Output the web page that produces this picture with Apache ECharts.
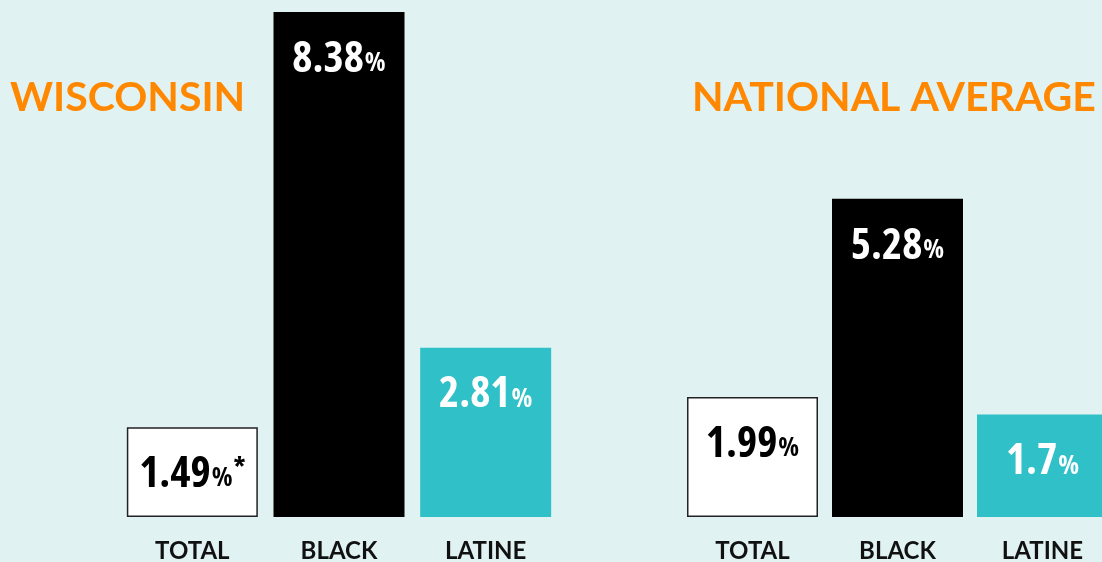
<!DOCTYPE html>
<html>
<head>
<meta charset="utf-8">
<script src="https://cdn.jsdelivr.net/npm/echarts@6/dist/echarts.min.js"></script>
<style>
html,body{margin:0;padding:0;background:#e0f2f2;overflow:hidden;}
#c{width:1116px;height:562px;}
</style>
</head>
<body>
<div id="c"></div>
<script>
const categories = ["TOTAL", "BLACK", "LATINE"];
const wisconsinValues = [1.49, 8.38, 2.81];
const wisconsinNotes = ["*", "", ""];
const nationalValues = [1.99, 5.28, 1.7];
const nationalNotes = ["", "", ""];
const panelTitles = ["WISCONSIN", "NATIONAL AVERAGE"];

const barColors = ["#ffffff", "#000000", "#30c0c8"];
const labelColors = ["#000000", "#ffffff", "#ffffff"];
const numFont = '"Open Sans", Roboto, sans-serif';
const headFont = 'Lato, "Noto Sans", sans-serif';
const yMax = Math.max(...wisconsinValues, ...nationalValues);

function makeData(values, notes) {
  return values.map((v, i) => ({
    value: v,
    note: notes[i],
    itemStyle: {
      color: barColors[i],
      borderColor: i === 0 ? '#222222' : barColors[i],
      borderWidth: i === 0 ? 1.5 : 0
    },
    label: { color: labelColors[i] }
  }));
}

function labelFmt(p) {
  const note = p.data.note ? '{s|' + p.data.note + '}' : '';
  return '{n|' + p.value + '}{p|%}' + note;
}

const labelCfg = {
  show: true,
  position: 'insideTop',
  distance: 26,
  formatter: labelFmt,
  rich: {
    n: { fontFamily: numFont, fontStyle: 'condensed', fontWeight: 'bold', fontSize: 43 },
    p: { fontFamily: numFont, fontStyle: 'condensed', fontWeight: 'bold', fontSize: 27, padding: [8, 0, 0, 1] },
    s: { fontFamily: numFont, fontStyle: 'condensed', fontWeight: 'bold', fontSize: 27, padding: [0, 0, 12, 1] }
  }
};

const xAxisBase = {
  type: 'category',
  data: categories,
  axisLine: { show: false },
  axisTick: { show: false },
  axisLabel: {
    color: '#111111', fontFamily: headFont, fontWeight: 'bold', fontSize: 24,
    margin: 22, verticalAlign: 'top'
  }
};
const yAxisBase = { type: 'value', min: 0, max: yMax, show: false, splitLine: { show: false } };

const chart = echarts.init(document.getElementById('c'));
chart.setOption({
  backgroundColor: '#e0f2f2',
  animation: false,
  title: [
    { text: panelTitles[0], left: 5, top: 72, textStyle: { color: '#ff8800', fontFamily: headFont, fontWeight: 'bold', fontSize: 41 } },
    { text: panelTitles[1], left: 687, top: 72, textStyle: { color: '#ff8800', fontFamily: headFont, fontWeight: 'bold', fontSize: 41 } }
  ],
  grid: [
    { left: 119, width: 440, top: 12, bottom: 45, outerBoundsMode: 'none', containLabel: false },
    { left: 680, width: 435, top: 12, bottom: 45, outerBoundsMode: 'none', containLabel: false }
  ],
  xAxis: [
    Object.assign({ gridIndex: 0 }, xAxisBase),
    Object.assign({ gridIndex: 1 }, xAxisBase)
  ],
  yAxis: [
    Object.assign({ gridIndex: 0 }, yAxisBase),
    Object.assign({ gridIndex: 1 }, yAxisBase)
  ],
  series: [
    { type: 'bar', xAxisIndex: 0, yAxisIndex: 0, barWidth: 131, data: makeData(wisconsinValues, wisconsinNotes), label: labelCfg },
    { type: 'bar', xAxisIndex: 1, yAxisIndex: 1, barWidth: 131, data: makeData(nationalValues, nationalNotes), label: labelCfg }
  ]
});
</script>
</body>
</html>
